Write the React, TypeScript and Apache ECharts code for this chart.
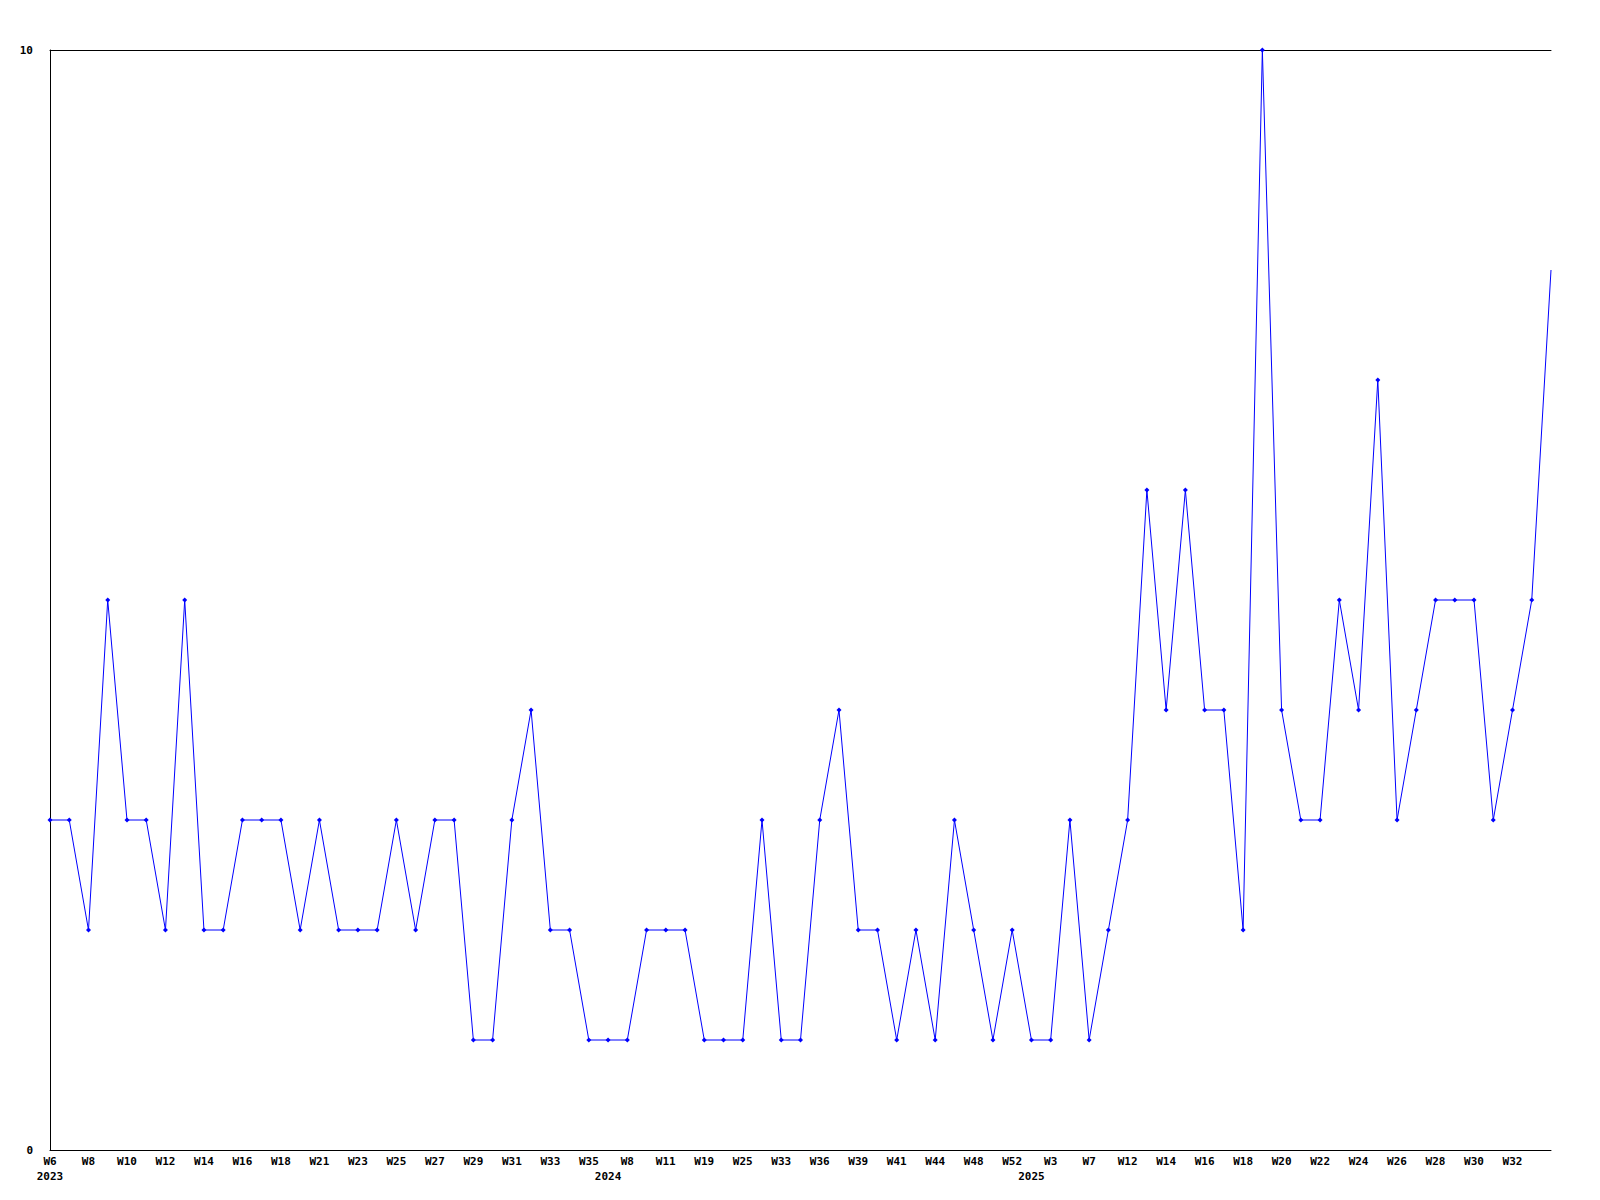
import React, { useEffect, useRef } from "react";
import * as echarts from "echarts";

const years2023 = ["W6","W7","W8","W9","W10","W11","W12","W13","W14","W15","W16","W17","W18","W20","W21","W22","W23","W24","W25","W26","W27","W28","W29","W30","W31","W32","W33","W34","W35"];
const years2024 = ["W5","W8","W10","W11","W15","W19","W22","W25","W30","W33","W34","W36","W38","W39","W40","W41","W43","W44","W46","W48","W50","W52"];
const years2025 = ["W2","W3","W5","W7","W10","W12","W13","W14","W15","W16","W17","W18","W19","W20","W21","W22","W23","W24","W25","W26","W27","W28","W29","W30","W31","W32","W33","W34"];

const values = [
  3,3,2,5,3,3,2,5,2,2,3,3,3,2,3,2,2,2,3,2,3,3,1,1,3,4,2,2,1,
  1,1,2,2,2,1,1,1,3,1,1,3,4,2,2,1,2,1,3,2,1,2,1,
  1,3,1,2,3,6,4,6,4,4,2,10,4,3,3,5,4,7,3,4,5,5,5,3,4,5,8,
];

const yLabels = [0, 10];

const categories: string[] = [
  ...years2023.map((w) => "2023|" + w),
  ...years2024.map((w) => "2024|" + w),
  ...years2025.map((w) => "2025|" + w),
];

export default function App() {
  const ref = useRef<HTMLDivElement>(null);
  useEffect(() => {
    if (!ref.current) return;
    const chart = echarts.init(ref.current, null, { renderer: "svg" });
    const font = { fontFamily: "DejaVu Sans Mono", fontWeight: "bold" as const, fontSize: 11, color: "#000" };
    const yearStart = (i: number) =>
      i === 0 || categories[i].split("|")[0] !== categories[i - 1].split("|")[0];
    const seriesData = values.map((v, i) =>
      i === values.length - 1 ? { value: v, symbol: "none" } : v
    );
    chart.setOption({
      animation: false,
      backgroundColor: "#fff",
      grid: { left: 50, right: 49, top: 50, bottom: 50 },
      xAxis: [
        {
          type: "category",
          data: categories,
          boundaryGap: false,
          position: "bottom",
          axisLine: { show: true, lineStyle: { color: "#000", width: 1 } },
          axisTick: { show: false },
          splitLine: { show: false },
          axisLabel: {
            ...font,
            margin: 6,
            interval: (i: number) => i % 2 === 0 && i < categories.length - 1,
            formatter: (v: string) => v.split("|")[1],
          },
        },
        {
          type: "category",
          data: categories,
          boundaryGap: false,
          position: "bottom",
          axisLine: { show: false },
          axisTick: { show: false },
          splitLine: { show: false },
          axisLabel: {
            ...font,
            margin: 21,
            interval: (i: number) => yearStart(i),
            formatter: (v: string) => v.split("|")[0],
          },
        },
        {
          type: "category",
          data: categories,
          boundaryGap: false,
          position: "top",
          axisLine: { show: true, lineStyle: { color: "#000", width: 1 } },
          axisTick: { show: false },
          axisLabel: { show: false },
          splitLine: { show: false },
        },
      ],
      yAxis: {
        type: "value",
        min: yLabels[0],
        max: yLabels[1],
        interval: 10,
        axisLine: { show: true, lineStyle: { color: "#000", width: 1 } },
        axisTick: { show: false },
        splitLine: { show: false },
        axisLabel: { ...font, margin: 17 },
      },
      series: [
        {
          type: "line",
          data: seriesData,
          xAxisIndex: 0,
          symbol: "diamond",
          symbolSize: 5,
          showSymbol: true,
          lineStyle: { color: "#0000ff", width: 1 },
          itemStyle: { color: "#0000ff" },
        },
      ],
    });
    return () => chart.dispose();
  }, []);
  return (
    <div
      ref={ref}
      style={{ position: "absolute", left: 0, top: 0, width: 1600, height: 1200 }}
    />
  );
}
